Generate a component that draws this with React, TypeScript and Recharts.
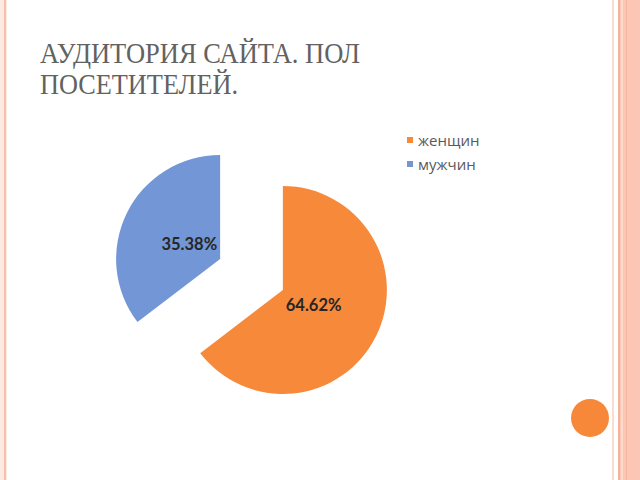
import React from 'react';
import { PieChart, Pie, Cell, Legend, Sector } from 'recharts';

const categories = ['женщин', 'мужчин'];
const shares = [64.62, 35.38];
const colors = ['#F7893B', '#7396D6'];
const titleLines = ['АУДИТОРИЯ САЙТА. ПОЛ', 'ПОСЕТИТЕЛЕЙ.'];

const data = categories.map((name, i) => ({ name, value: shares[i] }));

const RAD = Math.PI / 180;
const EXPLODE = 35;

const ExplodedSector = (props: any) => {
  const { cx, cy, midAngle } = props;
  const dx = Math.cos(-midAngle * RAD) * EXPLODE;
  const dy = Math.sin(-midAngle * RAD) * EXPLODE;
  return <Sector {...props} cx={cx + dx} cy={cy + dy} stroke="none" />;
};

const renderLabel = (props: any) => {
  const { cx, cy, midAngle, outerRadius, value } = props;
  const r = EXPLODE + outerRadius * 0.33;
  const x = cx + Math.cos(-midAngle * RAD) * r;
  const y = cy + Math.sin(-midAngle * RAD) * r;
  return (
    <text
      x={x}
      y={y}
      textAnchor="middle"
      dominantBaseline="central"
      fill="#262626"
      fontFamily="Lato, 'Open Sans', sans-serif"
      fontWeight="bold"
      fontSize={16.5}
    >
      {value.toFixed(2)}%
    </text>
  );
};

const renderLegend = (props: any) => {
  const { payload } = props;
  return (
    <div>
      {payload.map((entry: any) => (
        <div
          key={entry.value}
          style={{ display: 'flex', alignItems: 'center', height: 24 }}
        >
          <span
            style={{
              width: 6,
              height: 6,
              background: entry.color,
              marginRight: 5,
              display: 'inline-block',
            }}
          />
          <span
            style={{
              color: '#595959',
              fontFamily: "'Open Sans', sans-serif",
              fontSize: 15,
            }}
          >
            {entry.value}
          </span>
        </div>
      ))}
    </div>
  );
};

export default function App() {
  return (
    <div
      style={{
        position: 'absolute',
        left: 0,
        top: 0,
        width: 640,
        height: 480,
        background: '#ffffff',
        overflow: 'hidden',
      }}
    >
      {/* left border stripes */}
      <div style={{ position: 'absolute', left: 0, top: 0, width: 7, height: 480, background: '#fde9df' }} />
      <div style={{ position: 'absolute', left: 4, top: 0, width: 2, height: 480, background: '#f6bfae' }} />
      {/* right border stripes */}
      <div style={{ position: 'absolute', left: 612, top: 0, width: 2, height: 480, background: '#f8dccf' }} />
      <div style={{ position: 'absolute', left: 618, top: 0, width: 22, height: 480, background: '#fbc7b4' }} />
      <div style={{ position: 'absolute', left: 618, top: 0, width: 2, height: 480, background: '#f3b39d' }} />
      <div style={{ position: 'absolute', left: 621, top: 0, width: 2, height: 480, background: '#fddacc' }} />
      <div style={{ position: 'absolute', left: 626, top: 0, width: 1, height: 480, background: '#f5b7a2' }} />
      {/* orange dot */}
      <div
        style={{
          position: 'absolute',
          left: 571,
          top: 399,
          width: 38,
          height: 38,
          borderRadius: '50%',
          background: '#F7883A',
        }}
      />
      {/* title */}
      <svg width={640} height={120} style={{ position: 'absolute', left: 0, top: 0 }}>
        <text
          x={40}
          y={63}
          fontFamily="'Liberation Serif', serif"
          fontSize={30}
          fill="#626262"
          textLength={320}
          lengthAdjust="spacingAndGlyphs"
        >
          {titleLines[0]}
        </text>
        <text
          x={40}
          y={94}
          fontFamily="'Liberation Serif', serif"
          fontSize={30}
          fill="#626262"
          textLength={198}
          lengthAdjust="spacingAndGlyphs"
        >
          {titleLines[1]}
        </text>
      </svg>
      <div style={{ position: 'absolute', left: 0, top: 0 }}>
        <PieChart width={640} height={480}>
          <Pie
            data={data}
            dataKey="value"
            nameKey="name"
            cx={246.5}
            cy={269.5}
            outerRadius={104}
            startAngle={90}
            endAngle={-270}
            isAnimationActive={false}
            shape={ExplodedSector}
            activeShape={ExplodedSector}
            inactiveShape={ExplodedSector}
            label={renderLabel}
            labelLine={false}
            stroke="none"
          >
            {data.map((d, i) => (
              <Cell key={d.name} fill={colors[i]} />
            ))}
          </Pie>
          <Legend
            layout="vertical"
            verticalAlign="top"
            align="right"
            content={renderLegend}
            wrapperStyle={{ left: 407, top: 128, width: 120 }}
          />
        </PieChart>
      </div>
    </div>
  );
}
